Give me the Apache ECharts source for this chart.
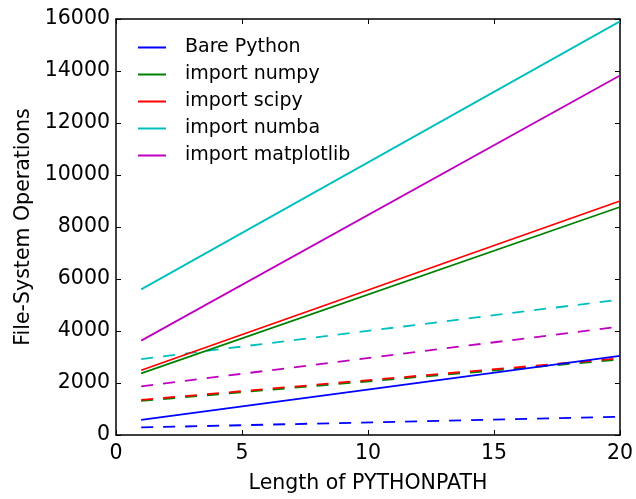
<!DOCTYPE html>
<html>
<head>
<meta charset="utf-8">
<script src="https://cdn.jsdelivr.net/npm/echarts@6/dist/echarts.min.js"></script>
<style>html,body{margin:0;padding:0;background:#fff;}#c{width:636px;height:499px;}</style>
</head>
<body>
<div id="c"></div>
<script>
// x positions (length of PYTHONPATH)
const xValues = [1, 20];
// Solid lines (one per import)
const barePythonSolid = [580, 3040];
const numpySolid = [2370, 8770];
const scipySolid = [2490, 9000];
const numbaSolid = [5600, 15910];
const matplotlibSolid = [3630, 13830];
// Dashed lines
const barePythonDashed = [290, 700];
const numpyDashed = [1310, 2900];
const scipyDashed = [1350, 2950];
const numbaDashed = [2920, 5210];
const matplotlibDashed = [1870, 4170];

const names = ['Bare Python', 'import numpy', 'import scipy', 'import numba', 'import matplotlib'];
const colors = ['#0000ff', '#008000', '#ff0000', '#00bfbf', '#bf00bf'];
const solid = [barePythonSolid, numpySolid, scipySolid, numbaSolid, matplotlibSolid];
const dashed = [barePythonDashed, numpyDashed, scipyDashed, numbaDashed, matplotlibDashed];

const FONT = 'DejaVu Sans';
const pairs = arr => xValues.map((x, i) => [x, arr[i]]);

const series = [];
dashed.forEach((d, i) => {
  series.push({
    name: names[i] + ' (dashed)', type: 'line', data: pairs(d), symbol: 'none',
    lineStyle: { color: colors[i], width: 1.8, type: [12, 10] }, itemStyle: { color: colors[i] },
    silent: true, animation: false, z: 2
  });
});
solid.forEach((s, i) => {
  series.push({
    name: names[i], type: 'line', data: pairs(s), symbol: 'none',
    lineStyle: { color: colors[i], width: 1.8 }, itemStyle: { color: colors[i] },
    animation: false, z: 3
  });
});

const axisCommon = {
  axisLine: { show: true, onZero: false, lineStyle: { color: '#000', width: 1.5 } },
  axisTick: { show: true, inside: true, length: 5, lineStyle: { color: '#000', width: 1 } },
  splitLine: { show: false }
};

const chart = echarts.init(document.getElementById('c'), null, { renderer: 'canvas' });
chart.setOption({
  animation: false,
  backgroundColor: '#fff',
  grid: { left: 116, right: 15, top: 19, bottom: 62, containLabel: false },
  legend: {
    data: names, orient: 'vertical', left: 133, top: 33,
    icon: 'rect', itemWidth: 28, itemHeight: 2, itemGap: 8,
    textStyle: { fontFamily: FONT, fontSize: 19, color: '#000', padding: [0, 0, 0, 14] },
    selectedMode: false
  },
  xAxis: [
    Object.assign({
      type: 'value', min: 0, max: 20, interval: 5, position: 'bottom',
      name: 'Length of PYTHONPATH', nameLocation: 'middle', nameGap: 38,
      nameTextStyle: { fontFamily: FONT, fontSize: 20.5, color: '#000' },
      axisLabel: { fontFamily: FONT, fontSize: 20.5, color: '#000', margin: 8 }
    }, axisCommon),
    Object.assign({
      type: 'value', min: 0, max: 20, interval: 5, position: 'top',
      axisLabel: { show: false }
    }, axisCommon)
  ],
  yAxis: [
    Object.assign({
      type: 'value', min: 0, max: 16000, interval: 2000, position: 'left',
      name: 'File-System Operations', nameLocation: 'middle', nameGap: 68,
      nameTextStyle: { fontFamily: FONT, fontSize: 20.5, color: '#000' },
      axisLabel: { fontFamily: FONT, fontSize: 20.5, color: '#000', margin: 6, formatter: v => String(v) }
    }, axisCommon),
    Object.assign({
      type: 'value', min: 0, max: 16000, interval: 2000, position: 'right',
      axisLabel: { show: false }
    }, axisCommon)
  ],
  series: series
});
</script>
</body>
</html>
